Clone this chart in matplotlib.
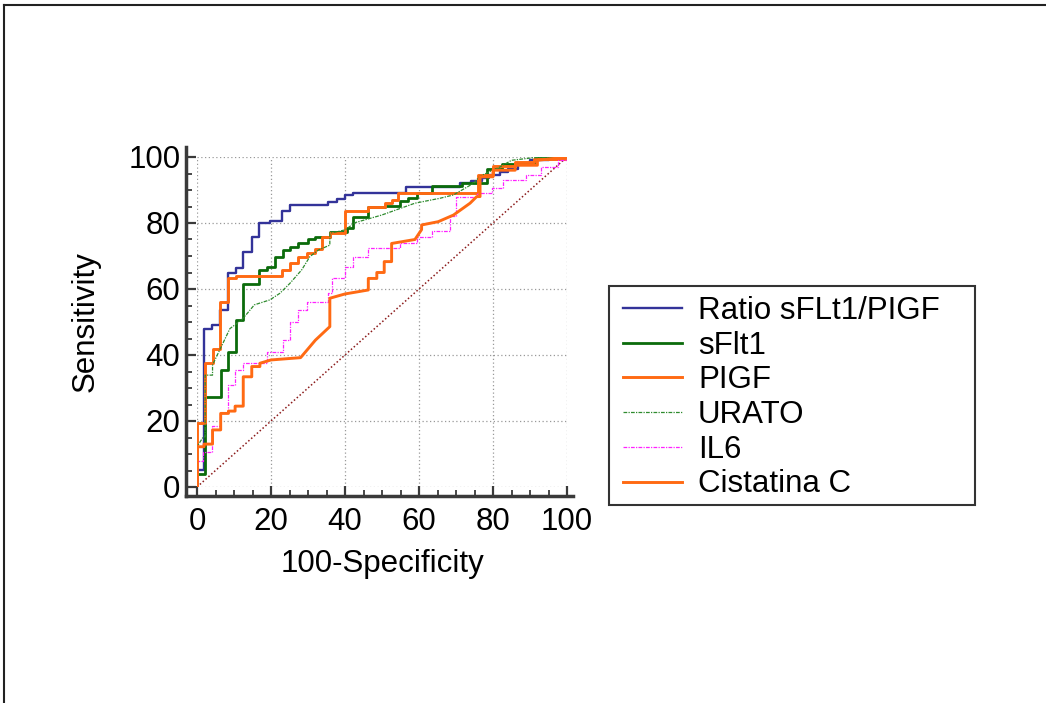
import matplotlib
matplotlib.use('Agg')
import matplotlib.pyplot as plt
from matplotlib.lines import Line2D
from matplotlib.patches import Rectangle

plt.rcParams['font.family'] = ['Liberation Sans', 'DejaVu Sans']
plt.rcParams['font.size'] = 22.5

# ROC-Kurven (100-Spezifitaet, Sensitivitaet)
ratio_x = [0, 0, 1.9, 4, 6.2, 8.5, 10.5, 12.5, 14.8, 16.8, 19.7, 22.9, 25.1, 35.5, 37.8,
           40, 42.2, 56.5, 71, 74, 77, 79, 82, 84, 86.8, 90, 95, 100]
ratio_y = [0, 5.2, 48, 49, 53.6, 64.8, 66.3, 71.3, 75.7, 80.1, 80.7, 83.6, 85.5, 86.5, 87.2,
           88.5, 89.2, 91, 92, 92.8, 93.5, 94.5, 95.5, 96.5, 98, 99, 99.5, 100]

sflt_x = [0, 0, 2.2, 6.4, 8.5, 10.5, 12.5, 16.8, 19, 21.1, 23.2, 25.1, 27.4, 30.1, 31.9,
          35.9, 40.5, 42.2, 46.3, 50.8, 54.9, 57.1, 59.4, 63.4, 71.5, 78.3, 82.3, 91.3, 100]
sflt_y = [0, 4, 27.4, 35.6, 41, 50.6, 61.4, 65.8, 66.8, 69.6, 71.8, 72.8, 73.8, 75, 75.7,
          77.4, 78.4, 81.9, 84.8, 85.2, 86.8, 87.5, 89, 91.2, 92.2, 96.3, 98, 99.8, 100]

pigf_x = [0, 0, 2.2, 4.2, 6.2, 8.5, 10.5, 22.9, 25.1, 27.4, 29.6, 31.9, 33.7, 35.9, 40,
          46.3, 50.8, 52.6, 54.4, 76, 80, 86, 91, 100]
pigf_y = [0, 19.3, 37.5, 41.7, 56.2, 63.2, 64, 65.8, 68, 69.6, 71, 72, 75.7, 77, 83.7,
          85, 86, 87, 89, 94.5, 97.3, 98.5, 99.5, 100]

urato_x = [0, 0, 1.7, 2.2, 2.2, 4.2, 4.2, 8.9, 12, 13.5, 15.5, 19.7, 22.4, 25.1, 28.3, 30.5,
           32.8, 35.9, 35.9, 40, 42.7, 49.9, 58.9, 65.7, 69.3, 74.7, 76.5, 81.9, 85, 91, 100]
urato_y = [0, 12.2, 15.2, 15.2, 33.9, 33.9, 37, 48, 50.6, 52.5, 55.2, 56.7, 58.7, 61.7, 65.8, 69.8,
           71.8, 73.3, 76.9, 77.9, 80.1, 82.4, 86, 87.5, 88.5, 92, 94.2, 97, 99, 99.8, 100]

il6_x = [0, 0, 1.7, 4, 6.2, 8.5, 10.3, 12.5, 18.8, 23.3, 25.1, 27.4, 29.6, 35.5, 36.5, 40,
         42.2, 46.3, 54.9, 59.4, 63.4, 68.4, 70, 75.6, 79.6, 82.8, 89, 93, 97.7, 100]
il6_y = [0, 8, 10.7, 18.5, 22.3, 30.9, 35.5, 37.5, 41, 44.5, 50, 53.6, 56.2, 58.7, 63.2, 66.8,
         69.6, 72.3, 73.8, 75.7, 77.6, 82, 88, 89, 90.5, 93, 94.5, 97, 99, 100]

cist_x = [0, 0, 1.9, 1.9, 4.2, 4.2, 6.4, 6.4, 8.5, 8.5, 10.3, 10.3, 12.5, 12.5, 14.8, 14.8,
          17, 17, 20, 28, 32, 35.9, 35.9, 40, 46.3, 46.3, 48.6, 48.6, 50.6, 50.6, 52.6, 52.6,
          58.9, 60.7, 60.7, 65.2, 69.3, 73.8, 75.6, 76.5, 76.5, 80, 80, 86, 86, 92, 92, 100]
cist_y = [0, 12.2, 12.2, 13, 13, 17.3, 17.3, 22.3, 22.3, 23, 23, 24.5, 24.5, 33.4, 33.4, 36.5,
          36.5, 37.5, 38.5, 39.2, 44.5, 48.6, 57.2, 58.5, 59.7, 63.2, 63.2, 65, 65, 68.3, 68.3, 73.8,
          75, 78, 79.4, 80.4, 82.4, 86, 88, 88, 94, 94, 96, 96, 97.5, 97.5, 99, 100]

diag = [0, 100]

W, H = 1046, 703
fig = plt.figure(figsize=(W / 100, H / 100), dpi=100)
ax = fig.add_axes([197 / W, 1 - 487 / H, 370 / W, 330 / H])

ax.plot(diag, diag, color='#8b1a1a', lw=1.1, linestyle=(0, (1, 1.5)))
ax.plot(ratio_x, ratio_y, color='#333399', lw=1.7, drawstyle='steps-post', label='Ratio sFLt1/PIGF')
ax.plot(sflt_x, sflt_y, color='#0b6b0b', lw=2.0, drawstyle='steps-post', label='sFlt1')
ax.plot(pigf_x, pigf_y, color='#ff6a13', lw=2.1, drawstyle='steps-post', label='PIGF')
ax.plot(urato_x, urato_y, color='#2e8b2e', lw=0.9, linestyle=(0, (3, 1, 1, 1)), label='URATO')
ax.plot(il6_x, il6_y, color='#ff22ff', lw=0.9, linestyle=(0, (3, 1, 1, 1)), drawstyle='steps-post', label='IL6')
ax.plot(cist_x, cist_y, color='#ff6a13', lw=2.1, label='Cistatina C')

ax.set_xlim(0, 100)
ax.set_ylim(0, 100)
ax.set_xticks(range(0, 101, 20))
ax.set_yticks(range(0, 101, 20))
ax.set_xticks(range(0, 101, 5), minor=True)
ax.set_yticks(range(0, 101, 5), minor=True)
ax.grid(which='major', color='#999999', linestyle=(0, (1, 2)), linewidth=0.9)
ax.set_axisbelow(True)

for s in ['top', 'right']:
    ax.spines[s].set_visible(False)
ax.spines['left'].set_position(('outward', 8))
ax.spines['bottom'].set_position(('outward', 6.5))
ax.spines['left'].set_bounds(-2.7, 103)
ax.spines['bottom'].set_bounds(-3, 101.6)
for s in ['left', 'bottom']:
    ax.spines[s].set_linewidth(2.5)
    ax.spines[s].set_color('#3a3a3a')

ax.tick_params(which='major', direction='in', length=7, width=1.6, color='#3a3a3a', pad=4)
ax.tick_params(which='minor', direction='in', length=4, width=1.3, color='#3a3a3a')
ax.tick_params(axis='x', which='major', pad=8)

ax.set_xlabel('100-Specificity', labelpad=8.5)
ax.set_ylabel('Sensitivity', labelpad=20)

# Legende ohne Rahmen, Rahmen separat
leg = ax.legend(loc='upper left', bbox_to_anchor=(623 / W, 1 - 296 / H), bbox_transform=fig.transFigure,
                frameon=False, borderpad=0, borderaxespad=0, labelspacing=0.15,
                handlelength=1.9, handletextpad=0.5, fontsize=22.5)
fig.add_artist(Rectangle((609 / W, 1 - 505 / H), 366 / W, 219 / H, transform=fig.transFigure,
                         fill=False, edgecolor='#333333', lw=1.5))

# aeusserer Rahmen
fig.add_artist(Line2D([4 / W, 4 / W], [0, 1 - 5 / H], transform=fig.transFigure, color='#222222', lw=1.5))
fig.add_artist(Line2D([4 / W, 1], [1 - 5 / H, 1 - 5 / H], transform=fig.transFigure, color='#222222', lw=1.5))

fig.savefig('out.png', dpi=100)
